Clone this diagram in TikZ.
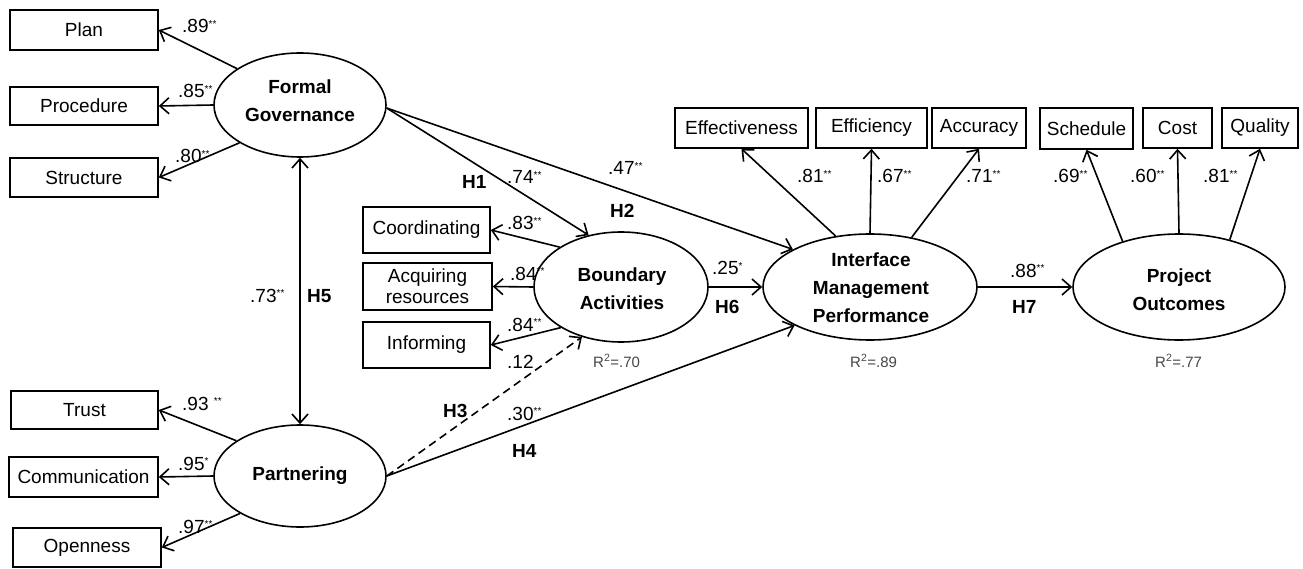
\documentclass[tikz,border=0pt]{standalone}
\usepackage{fontspec}
\setmainfont{Liberation Sans}
\usetikzlibrary{shapes.geometric,arrows.meta}
\newcommand\sig[1]{\raisebox{5.5pt}{\fontsize{10}{10}\selectfont#1}}
\definecolor{rgray}{RGB}{70,70,70}
\begin{document}
\begin{tikzpicture}[x=1pt,y=-1pt,
  box/.style={draw,line width=1.6pt,inner sep=0pt,align=center,font=\fontsize{19}{21}\selectfont},
  lat/.style={draw,ellipse,line width=1.6pt,inner sep=0pt},
  lattext/.style={align=center,font=\bfseries\fontsize{19}{28}\selectfont,inner sep=0pt},
  coef/.style={anchor=base west,inner sep=0pt,font=\fontsize{19}{21}\selectfont},
  hyp/.style={anchor=base west,inner sep=0pt,font=\bfseries\fontsize{19}{21}\selectfont},
  rsq/.style={anchor=base west,inner sep=0pt,text=rgray,font=\fontsize{15}{17}\selectfont},
  arr/.style={line width=1.6pt,-{Straight Barb[length=9pt,width=16pt,line width=1.6pt]}},
  arrboth/.style={line width=1.6pt,{Straight Barb[length=9pt,width=16pt,line width=1.6pt]}-{Straight Barb[length=9pt,width=16pt,line width=1.6pt]}},
]
\useasboundingbox (0,0) rectangle (1303,569);
\fill[white] (0,0) rectangle (1303,569);

% observed indicators
\node[box,minimum width=148,minimum height=40] (plan) at (84,30) {Plan};
\node[box,minimum width=148,minimum height=38] (procedure) at (84,106) {Procedure};
\node[box,minimum width=148,minimum height=39] (structure) at (84,177.5) {Structure};
\node[box,minimum width=147,minimum height=38] (trust) at (84.5,410) {Trust};
\node[box,minimum width=149,minimum height=40] (communication) at (83.5,477) {Communication};
\node[box,minimum width=148,minimum height=39] (openness) at (87,547.5) {Openness};
\node[box,minimum width=127,minimum height=46] (coordinating) at (426.5,230) {Coordinating};
\node[box,minimum width=129,minimum height=47] (acquiring) at (427.5,286.5) {Acquiring\\resources};
\node[box,minimum width=127,minimum height=46] (informing) at (426.5,345) {Informing};
\node[box,minimum width=133,minimum height=40] (effectiveness) at (741.5,128) {Effectiveness};
\node[box,minimum width=111,minimum height=40] (efficiency) at (871.5,128) {Efficiency};
\node[box,minimum width=94,minimum height=40] (accuracy) at (979,128) {Accuracy};
\node[box,minimum width=93,minimum height=41] (schedule) at (1086.5,128.5) {Schedule};
\node[box,minimum width=69,minimum height=40] (cost) at (1177.5,128) {Cost};
\node[box,minimum width=76,minimum height=40] (quality) at (1260,128) {Quality};

% latent variables
\node[lat,minimum width=172,minimum height=104] (fg) at (300,105) {};
\node[lattext] (fgt) at (300,101) {Formal\\Governance};
\node[lat,minimum width=172,minimum height=102] (par) at (300,476) {};
\node[lattext] (part) at (300,476) {Partnering};
\node[lat,minimum width=174,minimum height=110] (ba) at (621,287) {};
\node[lattext] (bat) at (622,289) {Boundary\\Activities};
\node[lat,minimum width=214,minimum height=106] (imp) at (870,287) {};
\node[lattext] (impt) at (871,288) {Interface\\Management\\Performance};
\node[lat,minimum width=212,minimum height=106] (po) at (1179,287) {};
\node[lattext] (pot) at (1179,290) {Project\\Outcomes};

% loadings
\draw[arr] (fg.150) -- (plan.east);
\draw[arr] (fg.west) -- (procedure.east);
\draw[arr] (fg.212) -- (structure.east);
\draw[arr] (par.151) -- (trust.east);
\draw[arr] (par.west) -- (communication.east);
\draw[arr] (par.212) -- (openness.east);
\draw[arr] (ba.147) -- (coordinating.east);
\draw[arr] (ba.west) -- (acquiring.east);
\draw[arr] (ba.214) -- (informing.east);
\draw[arr] (imp.124) -- (effectiveness.south);
\draw[arr] (imp.north) -- (efficiency.south);
\draw[arr] (imp.50) -- (accuracy.south);
\draw[arr] (po.141) -- (schedule.south);
\draw[arr] (po.north) -- (cost.south);
\draw[arr] (po.43) -- (quality.south);

% structural paths
\draw[arr] (fg.-2) -- (ba.122);
\draw[arr] (fg.-2) -- (imp.154);
\draw[arr] (ba.east) -- (imp.west);
\draw[arr] (imp.east) -- (po.west);
\draw[arrboth] (fg.south) -- (par.north);
\draw[arr,dash pattern=on 8pt off 5pt] (par.east) -- (ba.232);
\draw[arr] (par.east) -- (imp.207);

% coefficients
\node[coef] (c89) at (182,33) {.89\sig{**}};
\node[coef] (c85) at (178,98) {.85\sig{**}};
\node[coef] (c80) at (175,163) {.80\sig{**}};
\node[coef] (c93) at (182,410) {.93 \sig{**}};
\node[coef] (c95) at (178,470) {.95\sig{*}};
\node[coef] (c97) at (178,533) {.97\sig{**}};
\node[coef] (c73) at (250,302) {.73\sig{**}};
\node[coef] (c74) at (507,184) {.74\sig{**}};
\node[coef] (c47) at (608,175) {.47\sig{**}};
\node[coef] (c83) at (507,230) {.83\sig{**}};
\node[coef] (c84a) at (510,280) {.84\sig{**}};
\node[coef] (c84b) at (507,331) {.84\sig{**}};
\node[coef] (c12) at (507,368) {.12};
\node[coef] (c30) at (507,420) {.30\sig{**}};
\node[coef] (c25) at (712,275) {.25\sig{*}};
\node[coef] (c88) at (1010,277) {.88\sig{**}};
\node[coef] (c81a) at (797,183) {.81\sig{**}};
\node[coef] (c67) at (877,183) {.67\sig{**}};
\node[coef] (c71) at (966,183) {.71\sig{**}};
\node[coef] (c69) at (1053,183) {.69\sig{**}};
\node[coef] (c60) at (1130,183) {.60\sig{**}};
\node[coef] (c81b) at (1203,183) {.81\sig{**}};

% hypotheses
\node[hyp] (h1) at (462,189) {H1};
\node[hyp] (h2) at (610,218) {H2};
\node[hyp] (h3) at (443,417) {H3};
\node[hyp] (h4) at (512,457) {H4};
\node[hyp] (h5) at (307,302) {H5};
\node[hyp] (h6) at (715,313) {H6};
\node[hyp] (h7) at (1012,313) {H7};

% R squared
\node[rsq] (r70) at (593,367) {R\textsuperscript{2}=.70};
\node[rsq] (r89) at (850,367) {R\textsuperscript{2}=.89};
\node[rsq] (r77) at (1155,367) {R\textsuperscript{2}=.77};
\end{tikzpicture}
\end{document}
